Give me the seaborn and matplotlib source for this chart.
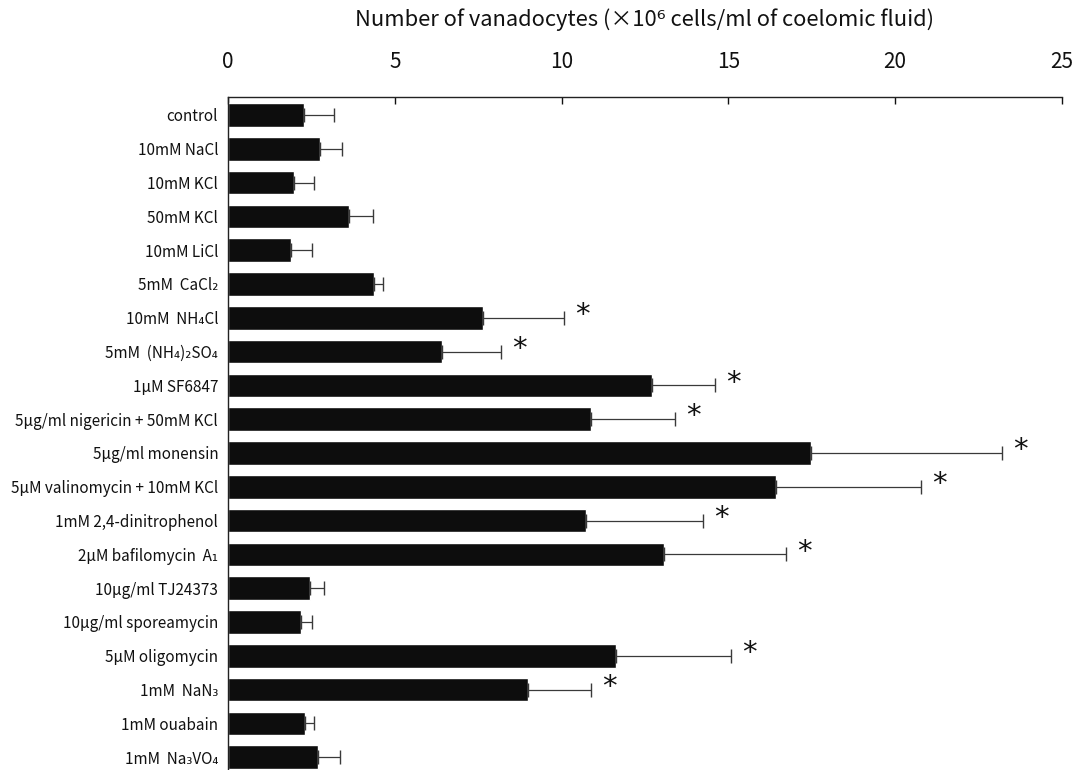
import matplotlib
matplotlib.use("Agg")
import matplotlib.pyplot as plt
import seaborn as sns
import numpy as np

# Treatments (top to bottom)
treatments = [
    "control",
    "10mM NaCl",
    "10mM KCl",
    "50mM KCl",
    "10mM LiCl",
    "5mM  CaCl₂",
    "10mM  NH₄Cl",
    "5mM  (NH₄)₂SO₄",
    "1μM SF6847",
    "5μg/ml nigericin + 50mM KCl",
    "5μg/ml monensin",
    "5μM valinomycin + 10mM KCl",
    "1mM 2,4-dinitrophenol",
    "2μM bafilomycin  A₁",
    "10μg/ml TJ24373",
    "10μg/ml sporeamycin",
    "5μM oligomycin",
    "1mM  NaN₃",
    "1mM ouabain",
    "1mM  Na₃VO₄",
]

# Mean number of vanadocytes (x10^6 cells/ml)
means = [2.28, 2.75, 1.98, 3.62, 1.89, 4.37, 7.63, 6.42, 12.72, 10.87,
         17.49, 16.44, 10.74, 13.07, 2.47, 2.19, 11.64, 9.00, 2.31, 2.70]

# Upper error (SD)
errors = [0.89, 0.66, 0.59, 0.72, 0.62, 0.27, 2.43, 1.76, 1.87, 2.54,
          5.71, 4.34, 3.51, 3.66, 0.40, 0.34, 3.43, 1.89, 0.27, 0.66]

# Significant difference from control
significant = [False, False, False, False, False, False, True, True, True, True,
               True, True, True, True, False, False, True, True, False, False]

xticks = [0, 5, 10, 15, 20, 25]

sns.set_style("white")
plt.rcParams["font.family"] = ["Noto Sans CJK JP", "DejaVu Sans"]

fig = plt.figure(figsize=(10.83, 7.70), dpi=100)
ax = fig.add_axes([0.2105, 0.0, 0.7701, 0.874])

sns.barplot(x=means, y=treatments, orient="h", color="#0d0d0d", saturation=1,
            width=0.7, errorbar=None, ax=ax)

ypos = np.arange(len(treatments))
ax.errorbar(means, ypos, xerr=[np.zeros(len(means)), errors], fmt="none",
            ecolor="#3a3a3a", elinewidth=0.9, capsize=5, capthick=1.0)

for y, m, e, s in zip(ypos, means, errors, significant):
    if s:
        ax.annotate("*", xy=(m + e, y), xytext=(8, 2), textcoords="offset points",
                    ha="left", va="center", fontsize=21, color="#111111",
                    family=["DejaVu Sans"])

ax.set_xlim(0, 25)
ax.set_ylim(19.38, -0.53)
ax.set_xticks(xticks)
ax.set_xticklabels([str(t) for t in xticks])
ax.xaxis.set_ticks_position("top")
ax.xaxis.set_label_position("top")
ax.tick_params(axis="x", direction="in", length=5, width=1, pad=17.5,
               labelsize=15, colors="#111111", top=True, bottom=False)
ax.tick_params(axis="y", length=0, pad=7, labelsize=11, colors="#111111")
ax.set_xlabel("Number of vanadocytes (×10⁶ cells/ml of coelomic fluid)",
              fontsize=15.8, labelpad=18, color="#111111")
ax.set_ylabel("")

for side in ["right", "bottom"]:
    ax.spines[side].set_visible(False)
for side in ["top", "left"]:
    ax.spines[side].set_color("#222222")
    ax.spines[side].set_linewidth(1.0)

fig.savefig("out.png", dpi=100)
